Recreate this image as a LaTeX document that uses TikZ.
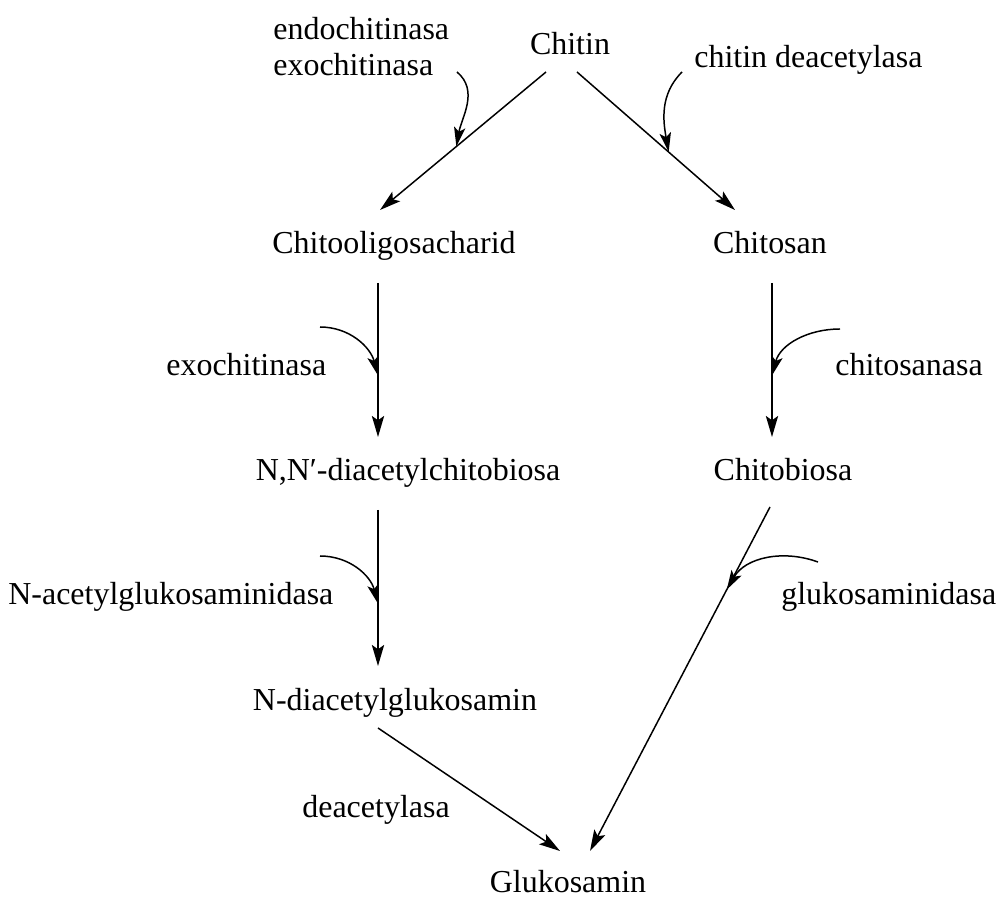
\documentclass[tikz,border=0pt]{standalone}
\usepackage{fontspec}
\setmainfont{Liberation Serif}
\usetikzlibrary{arrows.meta}
\begin{document}
\begin{tikzpicture}[x=0.02cm, y=0.02cm,
  chem/.style={inner sep=0pt, font=\fontsize{18.2}{22}\selectfont, anchor=base},
  enzyme/.style={inner sep=0pt, font=\fontsize{18.2}{22}\selectfont, anchor=base west},
  react/.style={line width=0.85pt, -{Stealth[length=12pt, width=7pt, inset=2.5pt]}},
  helper/.style={line width=0.85pt, -{Stealth[length=11pt, width=6.5pt, inset=2.5pt]}}]
  \useasboundingbox (0,0) rectangle (1002,900);

  % Substances
  \node[chem] (chitin) at (570,845) {Chitin};
  \node[chem] (oligo) at (394,646) {Chitooligosacharid};
  \node[chem] (chitosan) at (770,646) {Chitosan};
  \node[chem] (nn) at (408,419) {N,N′-diacetylchitobiosa};
  \node[chem] (chitobiosa) at (783,419) {Chitobiosa};
  \node[chem] (glcnac) at (395,189) {N-diacetylglukosamin};
  \node[chem] (glcn) at (568,7) {Glukosamin};

  % Enzymes
  \node[enzyme] (endo) at (273,860) {endochitinasa};
  \node[enzyme] (exoA) at (273,824) {exochitinasa};
  \node[enzyme] (chdeac) at (694,832) {chitin deacetylasa};
  \node[enzyme] (exoB) at (166,524) {exochitinasa};
  \node[enzyme] (chitosanasa) at (835,524) {chitosanasa};
  \node[enzyme] (nacet) at (8,295) {N-acetylglukosaminidasa};
  \node[enzyme] (glukase) at (781,295) {glukosaminidasa};
  \node[enzyme] (deac) at (302,82) {deacetylasa};

  % Reactions
  \draw[react] ([shift={(-24,-17)}]chitin.base) -- coordinate[pos=0.54] (r1) ([shift={(-14,44)}]oligo.base);
  \draw[react] ([shift={(7,-17)}]chitin.base) -- coordinate[pos=0.58] (r2) ([shift={(-35,44)}]chitosan.base);
  \draw[react] ([shift={(-16,-29)}]oligo.base) -- coordinate[pos=0.6] (r3) ([shift={(-30,44)}]nn.base);
  \draw[react] ([shift={(2,-29)}]chitosan.base) -- coordinate[pos=0.6] (r4) ([shift={(-11,44)}]chitobiosa.base);
  \draw[react] ([shift={(-30,-29)}]nn.base) -- coordinate[pos=0.6] (r5) ([shift={(-17,45)}]glcnac.base);
  \draw[react] ([shift={(-17,-17)}]glcnac.base) -- ([shift={(-8,42)}]glcn.base);
  \draw[react] ([shift={(-13,-26)}]chitobiosa.base) -- coordinate[pos=0.24] (r7) ([shift={(22,42)}]glcn.base);

  % Enzyme arrows
  \coordinate (e1) at (457,828);
  \coordinate (e2) at (682,828);
  \coordinate (e3) at (320,573);
  \coordinate (e4) at (840,571);
  \coordinate (e5) at (320,344);
  \coordinate (e6) at (818,338);
  \draw[helper] (e1) to[out=-40, in=80] (r1);
  \draw[helper] (e2) to[out=-135, in=100] (r2);
  \draw[helper] (e3) to[out=0, in=105] (r3);
  \draw[helper] (e4) to[out=180, in=75] (r4);
  \draw[helper] (e5) to[out=0, in=105] (r5);
  \draw[helper] (e6) to[out=160, in=60] (r7);
\end{tikzpicture}
\end{document}
